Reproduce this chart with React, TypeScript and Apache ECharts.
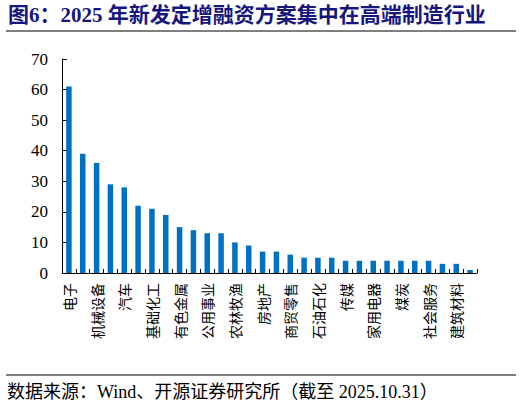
import { useEffect, useRef } from "react";
import * as echarts from "echarts";

const industries = [
  "电子", "电力设备", "机械设备", "医药生物", "汽车", "计算机",
  "基础化工", "国防军工", "有色金属", "交通运输", "公用事业", "轻工制造",
  "农林牧渔", "纺织服饰", "房地产", "通信", "商贸零售", "食品饮料",
  "石油石化", "环保", "传媒", "建筑装饰", "家用电器", "钢铁",
  "煤炭", "非银金融", "社会服务", "美容护理", "建筑材料", "银行",
];
const counts = [
  61, 39, 36, 29, 28, 22, 21, 19, 15, 14, 13, 13, 10, 9, 7,
  7, 6, 5, 5, 5, 4, 4, 4, 4, 4, 4, 4, 3, 3, 1,
];
const yTicks = [0, 10, 20, 30, 40, 50, 60, 70];

const titleText = "图6：2025 年新发定增融资方案集中在高端制造行业";
const sourceText = "数据来源：Wind、开源证券研究所（截至 2025.10.31）";

const serif = "'Liberation Serif', 'Times New Roman', 'Noto Sans CJK SC', serif";

export default function App() {
  const chartRef = useRef<HTMLDivElement>(null);

  useEffect(() => {
    if (!chartRef.current) return;
    const chart = echarts.init(chartRef.current, undefined, { renderer: "svg" });

    const option: echarts.EChartsOption = {
      animation: false,
      backgroundColor: "#ffffff",
      grid: { left: 62, right: 45, top: 59, bottom: 132, containLabel: false },
      graphic: [
        {
          type: "text",
          x: 8,
          y: 15,
          style: {
            text: titleText,
            fontSize: 21,
            fontWeight: "bold",
            fontFamily: serif,
            fill: "#16167c",
            verticalAlign: "middle",
          },
        },
        {
          type: "line",
          shape: { x1: 6, y1: 31, x2: 516, y2: 31 },
          style: { stroke: "#7f7f7f", lineWidth: 2 },
        },
        {
          type: "line",
          shape: { x1: 6, y1: 375, x2: 516, y2: 375 },
          style: { stroke: "#000000", lineWidth: 1 },
        },
        {
          type: "text",
          x: 7,
          y: 392,
          style: {
            text: sourceText,
            fontSize: 18,
            fontFamily: serif,
            fill: "#000000",
            verticalAlign: "middle",
          },
        },
      ],
      xAxis: {
        type: "category",
        data: industries,
        axisLine: { lineStyle: { color: "#000000", width: 1 } },
        axisTick: { show: true, inside: true, length: 4, interval: 0, lineStyle: { color: "#000000" } },
        axisLabel: {
          interval: 1,
          rotate: 90,
          margin: 10,
          fontSize: 14,
          color: "#000000",
          fontFamily: "'Noto Sans CJK SC', sans-serif",
          padding: [8, 0, 0, 0],
        },
      },
      yAxis: {
        type: "value",
        min: yTicks[0],
        max: yTicks[yTicks.length - 1],
        interval: 10,
        axisLine: { show: true, lineStyle: { color: "#000000", width: 1 } },
        axisTick: { show: true, inside: true, length: 5, lineStyle: { color: "#000000" } },
        splitLine: { show: false },
        axisLabel: {
          margin: 14,
          fontSize: 17,
          color: "#000000",
          fontFamily: serif,
        },
      },
      series: [
        {
          type: "bar",
          data: counts,
          barWidth: 5.5,
          itemStyle: { color: "#0070c0" },
        },
      ],
    };

    chart.setOption(option);
    return () => chart.dispose();
  }, []);

  return (
    <div
      ref={chartRef}
      style={{ position: "fixed", left: 0, top: 0, width: 522, height: 405 }}
    />
  );
}
